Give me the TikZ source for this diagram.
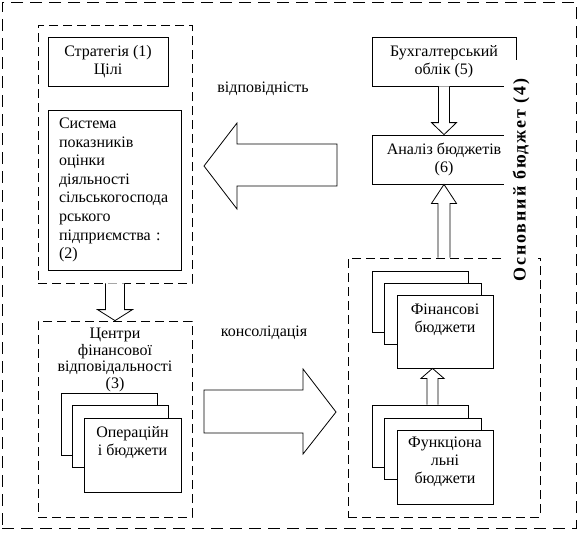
\documentclass[tikz,border=0pt]{standalone}
\usepackage{fontspec}
\setmainfont{Liberation Serif}
\usetikzlibrary{calc}
\newcommand\normtext{\fontsize{16}{18}\selectfont}
\newcommand\cfotext{\fontsize{16}{16.8}\selectfont}
\newcommand\systext{\fontsize{16}{18.6}\selectfont}
\newcommand\osntext{\bfseries\fontsize{18}{20}\selectfont\addfontfeatures{LetterSpace=11}}
\begin{document}
\begin{tikzpicture}[x=1pt,y=-1pt,line width=0.8pt,
  box/.style={draw,fill=white,inner sep=0pt,align=center,font=\normtext},
  sz/.style 2 args={minimum width=#1,minimum height=#2},
  grp/.style={draw,dash pattern=on 9pt off 5pt,inner sep=0pt},
  outerbox/.style={draw,dash pattern=on 12pt off 7pt,inner sep=0pt},
  toptext/.style={anchor=north,align=center,inner sep=0pt,font=\normtext},
  plain/.style={inner sep=0pt,font=\normtext},
  hollow/.style={draw,fill=white,line join=miter}]
\useasboundingbox (0,0) rectangle (578,542);

% dashed groups
\node[outerbox,sz={574}{526}] (outer) at (289,265) {};
\node[grp,sz={154}{258}] (lgrp) at (115,154) {};
\node[grp,sz={154}{196}] (cfo) at (115,419) {};
\node[grp,sz={192}{259}] (fingrp) at (444,387.5) {};

% left column
\node[box,sz={120}{49}] (strat) at (108,61.5) {Стратегія (1)\\Цілі};
\node[box,sz={133}{160},text width=111pt,align=left,font=\systext] (sys) at (114.5,190)
  {Система\\показників\\оцінки\\діяльності\\сільськогоспода\\рського\\підприємства :\\(2)};
\node[toptext,font=\cfotext] (cfotxt) at (115,327.5) {Центри\\фінансової\\відповідальності\\(3)};
\node[box,sz={96}{62}] (opback) at (109,424) {};
\node[box,sz={96}{62}] (opmid) at (120,436) {};
\node[box,sz={97}{74},label={[toptext,yshift=-9pt]north:Операційн\\і бюджети}] (opfront) at (132.5,455) {};

% right column
\node[box,sz={144}{49}] (bukh) at (444,61.5) {Бухгалтерський\\облік (5)};
\node[box,sz={144}{49}] (analiz) at (444,159.5) {Аналіз бюджетів\\(6)};
\node[box,sz={96}{61}] (finback) at (420,301.5) {};
\node[box,sz={97}{61}] (finmid) at (432.5,313.5) {};
\node[box,sz={96}{73},label={[toptext,yshift=-9pt]north:Фінансові\\бюджети}] (finfront) at (445,331.5) {};
\node[box,sz={96}{62}] (funcback) at (420,436) {};
\node[box,sz={97}{61}] (funcmid) at (432.5,448.5) {};
\node[box,sz={96}{74},label={[toptext,yshift=-7pt]north:Функціона\\льні\\бюджети}] (funcfront) at (445,467) {};

% hollow connectors
\draw[hollow] ($(lgrp.south)+(-9.5,0)$) -- ($(cfo.north)+(-9.5,-11)$) -- ($(cfo.north)+(-17.5,-11)$)
  -- (cfo.north) -- ($(cfo.north)+(17.5,-11)$) -- ($(cfo.north)+(9.5,-11)$) -- ($(lgrp.south)+(9.5,0)$);
\draw[hollow] ($(bukh.south)+(-5.5,0)$) -- ($(analiz.north)+(-5.5,-12)$) -- ($(analiz.north)+(-12.5,-12)$)
  -- (analiz.north) -- ($(analiz.north)+(12.5,-12)$) -- ($(analiz.north)+(5.5,-12)$) -- ($(bukh.south)+(5.5,0)$);
\draw[hollow] ($(fingrp.north)+(-6,0)$) -- ($(analiz.south)+(-6,19)$) -- ($(analiz.south)+(-12.5,19)$)
  -- (analiz.south) -- ($(analiz.south)+(12.5,19)$) -- ($(analiz.south)+(6,19)$) -- ($(fingrp.north)+(6,0)$);
\coordinate (ftip) at ($(finfront.south)+(-12.5,0)$);
\draw[hollow] ($(funcback.north)+(7,0)$) -- ($(ftip)+(-5.5,10)$) -- ($(ftip)+(-11.5,10)$)
  -- (ftip) -- ($(ftip)+(11.5,10)$) -- ($(ftip)+(5.5,10)$) -- ($(funcback.north)+(18,0)$);

% big block arrows
\draw[hollow] (204,166) -- (237,123) -- (237,144) -- (337,144) -- (337,186) -- (237,186) -- (237,209) -- cycle;
\draw[hollow] (336,412) -- (303,369) -- (303,390) -- (204,390) -- (204,433) -- (303,433) -- (303,454) -- cycle;

% labels
\node[plain] (vidp) at (263,89) {відповідність};
\node[plain] (kons) at (264,333) {консолідація};

% rotated title
\node[rotate=90,fill=white,inner sep=0pt,minimum width=240pt,minimum height=34pt,font=\osntext] (osn) at (521,180) {Основний бюджет (4)};
\end{tikzpicture}
\end{document}
